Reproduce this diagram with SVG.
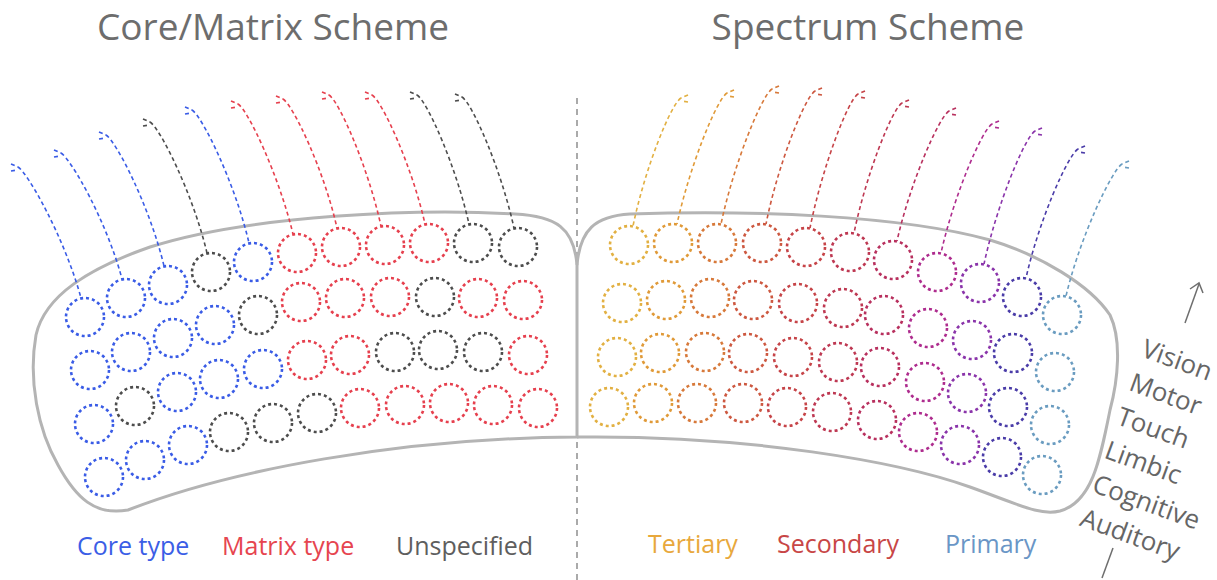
<svg xmlns="http://www.w3.org/2000/svg" width="1217" height="580" viewBox="0 0 1217 580">
<style>
.t{font-family:"Open Sans","Liberation Sans",sans-serif;}
circle{fill:none;stroke-width:2.6;stroke-dasharray:3 3;}
.fib path{fill:none;stroke-width:1.6;stroke-dasharray:4 3;}
.b{stroke:#3a5ce6;} .r{stroke:#e6404e;} .g{stroke:#4d4d4d;}
.s1{stroke:#e2b042;} .s2{stroke:#e09a38;} .s3{stroke:#d7793a;} .s4{stroke:#cd5840;} .s5{stroke:#c64448;} .s6{stroke:#be3852;}
.s7{stroke:#b8305e;} .s8{stroke:#ae2c8e;} .s9{stroke:#8a34aa;} .s10{stroke:#4a3ca8;} .s11{stroke:#6a9cc0;}
.outline{fill:none;stroke:#b4b4b4;stroke-width:3;}
</style>
<rect width="1217" height="580" fill="#ffffff"/>
<text class="t" x="273" y="40" font-size="37" fill="#6d6d6d" text-anchor="middle">Core/Matrix Scheme</text>
<text class="t" x="868" y="40" font-size="37" fill="#6d6d6d" text-anchor="middle">Spectrum Scheme</text>
<g id="divider" stroke="#aaaaaa" stroke-width="2" stroke-dasharray="6 5" fill="none">
<line x1="577" y1="98" x2="577" y2="258"/>
<line x1="577" y1="442" x2="577" y2="580"/>
</g>
<g id="left-sheet"><path class="outline" d="M577,265 C574,228 556,216 515,214 C420,208 250,215 150,247 C90,268 45,295 36,335 C28,380 38,430 58,465 C76,498 95,516 128,510 C230,470 400,438 577,437 Z"/></g>
<g id="right-sheet"><path class="outline" d="M577,265 C580,230 595,216 630,214 C750,210 900,215 990,240 C1040,255 1090,285 1110,315 C1122,340 1118,380 1110,410 C1100,460 1092,502 1060,511 C1040,516 1020,505 970,487 C900,462 750,435 577,437"/></g>
<g id="connectors" class="fib">
<path class="b" d="M18,167 C28,173 65,239 81,298 M11,164 L18,167 M11,171 L17,170"/>
<path class="b" d="M61,153 C71,159 107,222 122,279 M54,150 L61,153 M54,157 L60,156"/>
<path class="b" d="M106,135 C116,141 150,207 164,266 M99,132 L106,135 M99,139 L105,138"/>
<path class="g" d="M150,122 C160,128 193,194 207,253 M143,119 L150,122 M143,126 L149,125"/>
<path class="b" d="M192,110 C202,116 235,183 249,243 M185,107 L192,110 M185,114 L191,113"/>
<path class="r" d="M238,104 C248,110 279,176 293,234 M231,101 L238,104 M231,108 L237,107"/>
<path class="r" d="M283,99 C293,105 324,170 337,228 M276,96 L283,99 M276,103 L282,102"/>
<path class="r" d="M329,95 C339,101 368,167 381,226 M322,92 L329,95 M322,99 L328,98"/>
<path class="r" d="M372,95 C382,101 412,166 425,224 M365,92 L372,95 M365,99 L371,98"/>
<path class="g" d="M417,95 C427,101 456,166 469,224 M410,92 L417,95 M410,99 L416,98"/>
<path class="g" d="M462,97 C472,103 501,169 514,228 M455,94 L462,97 M455,101 L461,100"/>
<path class="s1" d="M681,98 C671,104 645,168 633,226 M688,95 L681,98 M688,102 L682,101"/>
<path class="s2" d="M727,93 C717,99 690,165 677,224 M734,90 L727,93 M734,97 L728,96"/>
<path class="s3" d="M772,89 C762,95 734,163 721,224 M779,86 L772,89 M779,93 L773,92"/>
<path class="s4" d="M815,91 C805,97 778,164 766,224 M822,88 L815,91 M822,95 L816,94"/>
<path class="s5" d="M858,94 C848,100 822,168 810,228 M865,91 L858,94 M865,98 L859,97"/>
<path class="s6" d="M902,103 C892,109 866,175 854,233 M909,100 L902,103 M909,107 L903,106"/>
<path class="s7" d="M949,111 C939,117 910,183 897,241 M956,108 L949,111 M956,115 L950,114"/>
<path class="s8" d="M992,124 C982,130 954,195 941,253 M999,121 L992,124 M999,128 L993,127"/>
<path class="s9" d="M1035,131 C1025,137 997,204 984,264 M1042,128 L1035,131 M1042,135 L1036,134"/>
<path class="s10" d="M1078,149 C1068,155 1039,220 1026,278 M1085,146 L1078,149 M1085,153 L1079,152"/>
<path class="s11" d="M1122,164 C1112,170 1080,237 1066,296 M1129,161 L1122,164 M1129,168 L1123,167"/>
</g>
<g id="left-nodes">
<g id="L1-1"><circle class="b" cx="85" cy="317" r="19"/></g>
<g id="L1-2"><circle class="b" cx="126" cy="298" r="19"/></g>
<g id="L1-3"><circle class="b" cx="168" cy="285" r="19"/></g>
<g id="L1-4"><circle class="g" cx="211" cy="272" r="19"/></g>
<g id="L1-5"><circle class="b" cx="253" cy="262" r="19"/></g>
<g id="L1-6"><circle class="r" cx="297" cy="253" r="19"/></g>
<g id="L1-7"><circle class="r" cx="341" cy="247" r="19"/></g>
<g id="L1-8"><circle class="r" cx="385" cy="245" r="19"/></g>
<g id="L1-9"><circle class="r" cx="429" cy="243" r="19"/></g>
<g id="L1-10"><circle class="g" cx="473" cy="243" r="19"/></g>
<g id="L1-11"><circle class="g" cx="518" cy="247" r="19"/></g>
<g id="L2-1"><circle class="b" cx="90" cy="370" r="19"/></g>
<g id="L2-2"><circle class="b" cx="131" cy="352" r="19"/></g>
<g id="L2-3"><circle class="b" cx="173" cy="338" r="19"/></g>
<g id="L2-4"><circle class="b" cx="215" cy="325" r="19"/></g>
<g id="L2-5"><circle class="g" cx="258" cy="315" r="19"/></g>
<g id="L2-6"><circle class="r" cx="301" cy="302" r="19"/></g>
<g id="L2-7"><circle class="r" cx="345" cy="298" r="19"/></g>
<g id="L2-8"><circle class="r" cx="390" cy="297" r="19"/></g>
<g id="L2-9"><circle class="g" cx="435" cy="297" r="19"/></g>
<g id="L2-10"><circle class="r" cx="478" cy="298" r="19"/></g>
<g id="L2-11"><circle class="r" cx="523" cy="300" r="19"/></g>
<g id="L3-1"><circle class="b" cx="94" cy="424" r="19"/></g>
<g id="L3-2"><circle class="g" cx="135" cy="406" r="19"/></g>
<g id="L3-3"><circle class="b" cx="177" cy="392" r="19"/></g>
<g id="L3-4"><circle class="b" cx="219" cy="379" r="19"/></g>
<g id="L3-5"><circle class="b" cx="263" cy="369" r="19"/></g>
<g id="L3-6"><circle class="r" cx="307" cy="360" r="19"/></g>
<g id="L3-7"><circle class="r" cx="350" cy="355" r="19"/></g>
<g id="L3-8"><circle class="g" cx="395" cy="352" r="19"/></g>
<g id="L3-9"><circle class="g" cx="438" cy="350" r="19"/></g>
<g id="L3-10"><circle class="g" cx="483" cy="352" r="19"/></g>
<g id="L3-11"><circle class="r" cx="528" cy="355" r="19"/></g>
<g id="L4-1"><circle class="b" cx="104" cy="477" r="19"/></g>
<g id="L4-2"><circle class="b" cx="145" cy="460" r="19"/></g>
<g id="L4-3"><circle class="b" cx="188" cy="445" r="19"/></g>
<g id="L4-4"><circle class="g" cx="229" cy="432" r="19"/></g>
<g id="L4-5"><circle class="g" cx="273" cy="423" r="19"/></g>
<g id="L4-6"><circle class="g" cx="317" cy="413" r="19"/></g>
<g id="L4-7"><circle class="r" cx="360" cy="408" r="19"/></g>
<g id="L4-8"><circle class="r" cx="405" cy="405" r="19"/></g>
<g id="L4-9"><circle class="r" cx="449" cy="403" r="19"/></g>
<g id="L4-10"><circle class="r" cx="493" cy="405" r="19"/></g>
<g id="L4-11"><circle class="r" cx="538" cy="408" r="19"/></g>
</g>
<g id="right-nodes">
<g id="R1-1"><circle class="s1" cx="629" cy="245" r="19"/></g>
<g id="R1-2"><circle class="s2" cx="673" cy="243" r="19"/></g>
<g id="R1-3"><circle class="s3" cx="717" cy="243" r="19"/></g>
<g id="R1-4"><circle class="s4" cx="762" cy="243" r="19"/></g>
<g id="R1-5"><circle class="s5" cx="806" cy="247" r="19"/></g>
<g id="R1-6"><circle class="s6" cx="850" cy="252" r="19"/></g>
<g id="R1-7"><circle class="s7" cx="893" cy="260" r="19"/></g>
<g id="R1-8"><circle class="s8" cx="937" cy="272" r="19"/></g>
<g id="R1-9"><circle class="s9" cx="980" cy="283" r="19"/></g>
<g id="R1-10"><circle class="s10" cx="1022" cy="297" r="19"/></g>
<g id="R1-11"><circle class="s11" cx="1062" cy="315" r="19"/></g>
<g id="R2-1"><circle class="s1" cx="622" cy="303" r="19"/></g>
<g id="R2-2"><circle class="s2" cx="666" cy="300" r="19"/></g>
<g id="R2-3"><circle class="s3" cx="710" cy="298" r="19"/></g>
<g id="R2-4"><circle class="s4" cx="753" cy="300" r="19"/></g>
<g id="R2-5"><circle class="s5" cx="798" cy="303" r="19"/></g>
<g id="R2-6"><circle class="s6" cx="843" cy="308" r="19"/></g>
<g id="R2-7"><circle class="s7" cx="884" cy="315" r="19"/></g>
<g id="R2-8"><circle class="s8" cx="928" cy="328" r="19"/></g>
<g id="R2-9"><circle class="s9" cx="972" cy="340" r="19"/></g>
<g id="R2-10"><circle class="s10" cx="1013" cy="353" r="19"/></g>
<g id="R2-11"><circle class="s11" cx="1055" cy="372" r="19"/></g>
<g id="R3-1"><circle class="s1" cx="617" cy="357" r="19"/></g>
<g id="R3-2"><circle class="s2" cx="660" cy="353" r="19"/></g>
<g id="R3-3"><circle class="s3" cx="705" cy="352" r="19"/></g>
<g id="R3-4"><circle class="s4" cx="748" cy="353" r="19"/></g>
<g id="R3-5"><circle class="s5" cx="793" cy="357" r="19"/></g>
<g id="R3-6"><circle class="s6" cx="838" cy="362" r="19"/></g>
<g id="R3-7"><circle class="s7" cx="880" cy="367" r="19"/></g>
<g id="R3-8"><circle class="s8" cx="925" cy="382" r="19"/></g>
<g id="R3-9"><circle class="s9" cx="967" cy="393" r="19"/></g>
<g id="R3-10"><circle class="s10" cx="1008" cy="407" r="19"/></g>
<g id="R3-11"><circle class="s11" cx="1050" cy="425" r="19"/></g>
<g id="R4-1"><circle class="s1" cx="609" cy="407" r="19"/></g>
<g id="R4-2"><circle class="s2" cx="653" cy="403" r="19"/></g>
<g id="R4-3"><circle class="s3" cx="697" cy="403" r="19"/></g>
<g id="R4-4"><circle class="s4" cx="743" cy="403" r="19"/></g>
<g id="R4-5"><circle class="s5" cx="787" cy="407" r="19"/></g>
<g id="R4-6"><circle class="s6" cx="832" cy="412" r="19"/></g>
<g id="R4-7"><circle class="s7" cx="877" cy="420" r="19"/></g>
<g id="R4-8"><circle class="s8" cx="918" cy="432" r="19"/></g>
<g id="R4-9"><circle class="s9" cx="960" cy="445" r="19"/></g>
<g id="R4-10"><circle class="s10" cx="1002" cy="457" r="19"/></g>
<g id="R4-11"><circle class="s11" cx="1042" cy="475" r="19"/></g>
</g>
<g id="legend" class="t" font-size="25">
<text x="77" y="555" fill="#3b5ee6">Core type</text>
<text x="222" y="555" fill="#e6454f">Matrix type</text>
<text x="396" y="555" fill="#5e5e5e">Unspecified</text>
<text x="648" y="553" fill="#e8a83c">Tertiary</text>
<text x="777" y="553" fill="#c84646">Secondary</text>
<text x="945" y="553" fill="#6a96c6">Primary</text>
</g>
<g id="axis" stroke="#6e6e6e" stroke-width="1.5" fill="none">
<line x1="1185" y1="323" x2="1199" y2="284"/>
<polyline points="1190,289 1199,283 1203,293"/>
<line x1="1113" y1="548" x2="1102" y2="578"/>
</g>
<g id="axis-labels" class="t" font-size="26" fill="#666666" transform="translate(1140,356) rotate(20)">
<text x="0" y="0">Vision</text>
<text x="0" y="36">Motor</text>
<text x="0" y="72">Touch</text>
<text x="0" y="108">Limbic</text>
<text x="0" y="144">Cognitive</text>
<text x="0" y="180">Auditory</text>
</g>
</svg>
